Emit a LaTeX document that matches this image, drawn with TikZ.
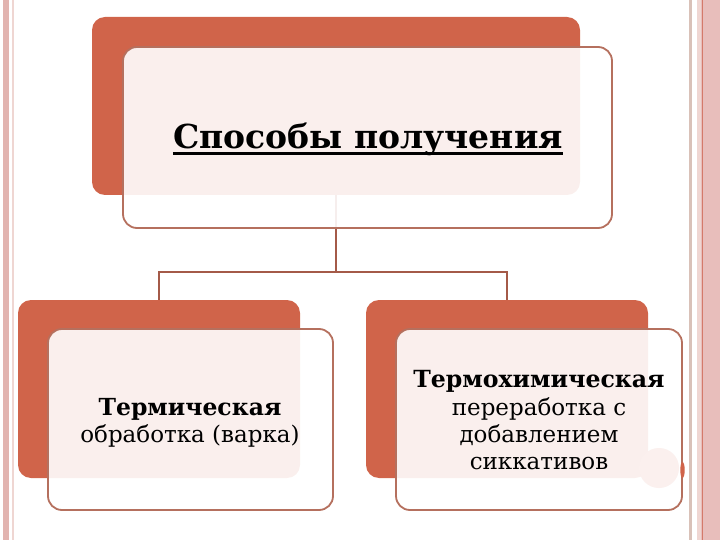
\documentclass[tikz,border=0pt]{standalone}
\usepackage{fontspec}
\setmainfont{DejaVu Serif}
\definecolor{orng}{HTML}{D0644A}
\definecolor{edgec}{HTML}{B5705E}
\definecolor{connc}{HTML}{A45A48}
\definecolor{stripea}{HTML}{E2B4B0}
\definecolor{stripeb}{HTML}{D9C1B8}
\definecolor{stripec}{HTML}{EFD6D2}
\definecolor{striped}{HTML}{D47A6A}
\definecolor{stripee}{HTML}{E8BEBB}
\definecolor{dotc}{HTML}{FBF0EE}
\begin{document}
\begin{tikzpicture}[x=1pt,y=-1pt,
  backbox/.style={fill=orng, rounded corners=13pt, inner sep=0pt, minimum width=282pt, minimum height=178pt},
  frontbox/.style={draw=edgec, line width=1.8pt, fill=white, fill opacity=0.9, text opacity=1, rounded corners=14pt, inner sep=0pt, minimum width=285pt, minimum height=181pt},
  conn/.style={draw=connc, line width=1.6pt},
  lbl/.style={align=center, inner sep=0pt, font=\fontsize{23}{27.3}\selectfont}]
\useasboundingbox (0,0) rectangle (720,540);
% page border stripes
\fill[stripea] (3,0) rectangle (9,540);
\fill[stripec] (12,0) rectangle (14,540);
\fill[stripeb] (689,0) rectangle (692,540);
\fill[stripec] (697,0) rectangle (701,540);
\fill[stripee] (701,0) rectangle (720,540);
\fill[striped] (701.5,0) rectangle (703,540);
% back boxes
\node[backbox, minimum width=488pt] (tb) at (336,106) {};
\node[backbox] (lb) at (159,389) {};
\node[backbox] (rb) at (507,389) {};
% connectors
\coordinate (j) at (336,272);
\draw[conn] (tb.south) -- (j) -| (lb.north);
\draw[conn] (j) -| (rb.north);
% front boxes
\node[frontbox, minimum width=489pt] (tf) at (367.5,137.5) {};
\node[frontbox] (lf) at (190.5,419.5) {};
\node[frontbox, minimum width=286pt] (rf) at (539,419.5) {};
\fill[dotc] (659,468) circle (20);
\fill[orng] (682.5,470) ellipse (2.2 and 8);
% texts
\node[inner sep=0pt, anchor=base, font=\fontsize{33}{33}\selectfont\bfseries] (title) at (368,149) {Способы получения};
\draw[line width=2.2pt] ([yshift=-4.5pt]title.base west) -- ([yshift=-4.5pt]title.base east);
\node[lbl] (lt) at (190,423) {{\fontsize{23.5}{27.3}\selectfont\bfseries Термическая}\\обработка (варка)};
\node[lbl] (rt) at (539,420.5) {{\fontsize{23.6}{27.3}\selectfont\bfseries Термохимическая}\\переработка с\\добавлением\\сиккативов};
\end{tikzpicture}
\end{document}
